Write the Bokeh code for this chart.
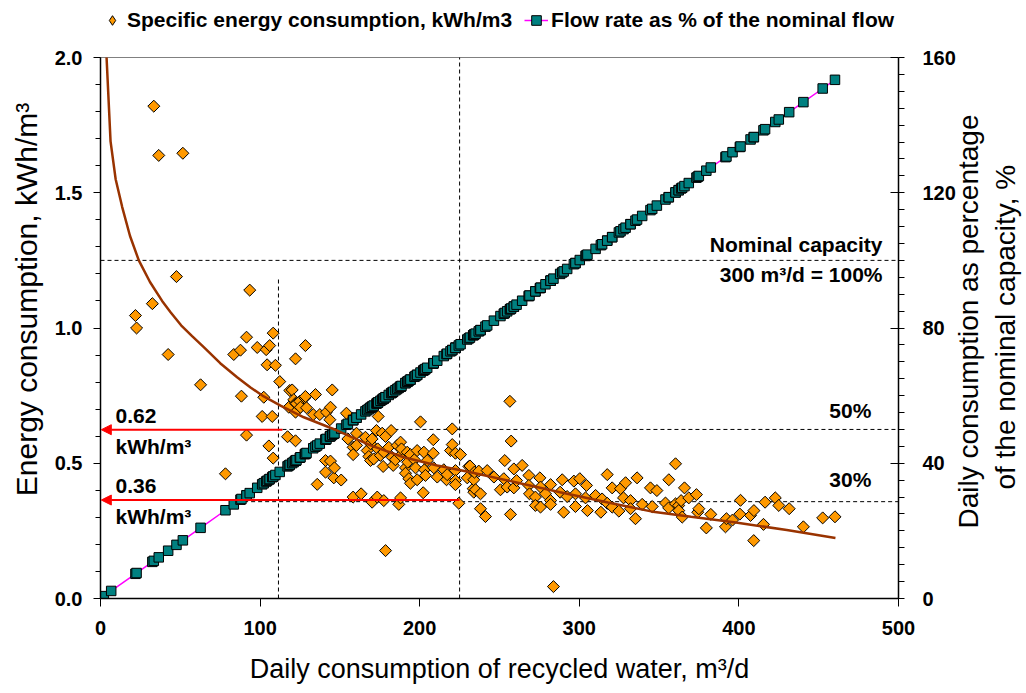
import math
from bokeh.plotting import figure
from bokeh.models import (Range1d, LinearAxis, Legend, LegendItem, Label, Arrow, NormalHead,
                          SingleIntervalTicker, NumeralTickFormatter)
from bokeh.embed import file_html
from bokeh.resources import INLINE

FONT = "Liberation Sans"
NOMINAL = 300.0  # m3/d = 100 %

# ---- data ----
daily_flow = [2.1, 6.7, 21.9, 22.6, 32.5, 33.4, 36.5, 42.4, 47.6, 51.6, 62.7, 78.3, 83.5, 87.7, 88.3, 91.5, 91.5,
              93.5, 98.2, 101.3, 102.3, 103.8, 104.4, 105.5, 106.0, 107.6, 108.2, 108.2, 109.6, 112.3, 117.2, 118.0,
              118.6, 120.1, 121.1, 122.2, 122.2, 122.2, 122.2, 122.8, 124.9, 125.3, 128.0, 128.4, 128.4, 129.1, 133.3,
              134.7, 135.8, 137.4, 141.0, 141.0, 141.6, 143.7, 144.1, 144.1, 145.2, 146.2, 146.6, 150.8, 154.1, 155.0,
              158.3, 158.3, 158.3, 160.4, 160.4, 163.3, 166.0, 167.1, 168.1, 169.2, 169.2, 170.2, 170.2, 171.2, 172.9,
              173.4, 173.7, 174.0, 175.4, 176.5, 177.1, 177.5, 177.5, 178.6, 178.6, 180.6, 182.1, 182.7, 183.4, 184.8,
              185.9, 186.9, 188.0, 188.0, 188.0, 188.6, 191.1, 191.1, 192.2, 192.5, 193.2, 194.2, 194.2, 196.7, 197.4,
              198.4, 198.4, 200.5, 202.2, 202.6, 203.0, 203.6, 204.7, 208.5, 208.5, 208.8, 211.0, 215.1, 216.8, 217.2,
              219.3, 220.4, 220.4, 222.4, 222.4, 222.4, 222.4, 224.5, 225.6, 229.8, 230.8, 231.5, 233.5, 233.9, 233.9,
              234.3, 235.0, 237.0, 238.1, 238.1, 241.2, 242.3, 246.5, 250.6, 252.7, 253.3, 254.8, 256.5, 256.9, 257.3,
              259.0, 259.0, 260.7, 264.2, 268.4, 268.4, 268.8, 272.5, 272.5, 275.3, 275.7, 275.7, 278.8, 282.0, 282.0,
              282.0, 283.8, 288.0, 289.3, 290.2, 292.4, 296.6, 297.6, 297.6, 300.3, 303.9, 304.5, 305.1, 310.2, 313.5,
              314.3, 317.5, 317.5, 320.6, 320.6, 324.8, 325.8, 327.7, 329.0, 332.1, 332.1, 335.2, 336.2, 339.4, 344.6,
              345.7, 348.6, 354.0, 356.1, 356.0, 360.3, 360.3, 362.3, 362.3, 363.8, 364.5, 365.9, 368.6, 373.4, 374.2,
              374.9, 379.6, 382.4, 391.6, 392.2, 396.0, 400.6, 401.0, 407.3, 409.4, 409.3, 415.4, 416.4, 422.8, 425.0,
              431.5, 440.4, 452.5, 460.2]
energy = [3.60, 2.40, 1.046, 1.00, 1.09, 1.82, 1.638, 0.902, 1.19, 1.646, 0.79, 0.461, 0.902, 0.918, 0.748, 0.966, 0.604,
          1.14, 0.928, 0.673, 0.744, 0.92, 0.864, 0.564, 0.935, 0.673, 0.981, 0.519, 0.862, 0.802, 0.598, 0.707,
          0.769, 0.771, 0.735, 0.886, 0.722, 0.689, 0.583, 0.72, 0.729, 0.707, 0.742, 0.935, 0.747, 0.705, 0.68,
          0.754, 0.422, 0.68, 0.467, 0.51, 0.689, 0.661, 0.707, 0.508, 0.771, 0.446, 0.483, 0.438, 0.685, 0.59,
          0.559, 0.532, 0.375, 0.611, 0.566, 0.387, 0.596, 0.547, 0.525, 0.572, 0.51, 0.59, 0.356, 0.516, 0.621,
          0.375, 0.553, 0.673, 0.529, 0.611, 0.488, 0.541, 0.362, 0.599, 0.177, 0.559, 0.621, 0.522, 0.492, 0.513,
          0.566, 0.348, 0.578, 0.529, 0.372, 0.553, 0.483, 0.463, 0.541, 0.504, 0.443, 0.532, 0.426, 0.513, 0.483,
          0.547, 0.439, 0.653, 0.391, 0.541, 0.476, 0.455, 0.51, 0.587, 0.537, 0.483, 0.449, 0.476, 0.439, 0.458,
          0.547, 0.627, 0.569, 0.537, 0.473, 0.436, 0.421, 0.352, 0.532, 0.446, 0.488, 0.49, 0.406, 0.439, 0.393,
          0.467, 0.402, 0.471, 0.387, 0.332, 0.303, 0.473, 0.449, 0.402, 0.443, 0.51, 0.412, 0.729, 0.311, 0.582,
          0.479, 0.409, 0.436, 0.492, 0.455, 0.418, 0.387, 0.375, 0.344, 0.446, 0.412, 0.338, 0.387, 0.421, 0.362,
          0.348, 0.044, 0.393, 0.439, 0.319, 0.377, 0.434, 0.387, 0.34, 0.443, 0.372, 0.418, 0.325, 0.381, 0.319,
          0.368, 0.458, 0.352, 0.409, 0.338, 0.323, 0.406, 0.372, 0.428, 0.362, 0.332, 0.295, 0.446, 0.348, 0.409,
          0.34, 0.399, 0.353, 0.439, 0.335, 0.498, 0.35, 0.344, 0.325, 0.362, 0.301, 0.409, 0.372, 0.384, 0.319,
          0.332, 0.261, 0.311, 0.265, 0.295, 0.29, 0.312, 0.363, 0.307, 0.325, 0.214, 0.274, 0.356, 0.372, 0.344,
          0.332, 0.265, 0.298, 0.302]

# trend curve
fit_flow = [3.8, 6.3, 9.5, 13.6, 18.5, 24.0, 31.0, 38.6, 43.9, 50.5, 57.4, 64.7, 75.0, 85.6, 94.0, 102.3, 112.8,
            127.4, 148.3, 169.2, 190.0, 211.0, 231.8, 260.0, 288.0, 318.0, 345.0, 370.0, 397.0, 430.0, 460.5]
fit_energy = [2.0, 1.69, 1.55, 1.447, 1.34, 1.25, 1.17, 1.10, 1.058, 1.01, 0.97, 0.929, 0.87, 0.818, 0.78, 0.747, 0.713,
              0.670, 0.621, 0.566, 0.522, 0.492, 0.467, 0.43, 0.393, 0.355, 0.322, 0.302, 0.282, 0.253, 0.224]

# flow as % of nominal (derived from the daily flow)
pct = [q / NOMINAL * 100.0 for q in daily_flow]
order = sorted(range(len(daily_flow)), key=lambda i: daily_flow[i])
flow_sorted = [daily_flow[i] for i in order]
pct_sorted = [pct[i] for i in order]

# axis extents
E_MAX, P_MAX = 2.0, 160.0
# the drawing area reaches up to the top of the page so that the legend can sit above the axes
FRAME_H, AXIS_H = 598, 541
e_top = E_MAX * FRAME_H / AXIS_H
p_top = P_MAX * FRAME_H / AXIS_H

p = figure(frame_width=798, frame_height=FRAME_H, x_range=Range1d(0, 500), y_range=Range1d(0, e_top),
           output_backend="svg", toolbar_location=None,
           min_border_left=100, min_border_right=124, min_border_top=0, min_border_bottom=92)
p.extra_y_ranges = {"pct": Range1d(0, p_top)}
p.xgrid.visible = False
p.ygrid.visible = False
p.outline_line_color = None

# plot-area top border
p.segment(x0=[0], y0=[E_MAX], x1=[500], y1=[E_MAX], line_color="#808080", line_width=1.2)

# reference lines
dash = "4 3"
p.segment(x0=[0], y0=[1.25], x1=[500], y1=[1.25], line_color="black", line_dash=dash, line_width=1)
p.segment(x0=[114], y0=[0.625], x1=[500], y1=[0.625], line_color="black", line_dash=dash, line_width=1)
p.segment(x0=[90], y0=[0.358], x1=[500], y1=[0.358], line_color="black", line_dash=dash, line_width=1)
p.segment(x0=[111.5], y0=[0], x1=[111.5], y1=[1.18], line_color="black", line_dash=dash, line_width=1)
p.segment(x0=[225], y0=[0], x1=[225], y1=[E_MAX], line_color="black", line_dash=dash, line_width=1)

# narrow diamonds (used as legend swatch), covered by the square-looking diamonds on top
r_leg = p.scatter(daily_flow, energy, marker="diamond", size=10,
                  fill_color="#FF9900", line_color="black", line_width=1)
r_sc = p.scatter(daily_flow, energy, marker="square", angle=math.pi / 4, size=8.5,
                 fill_color="#FF9900", line_color="black", line_width=1)
r_line = p.line(flow_sorted, pct_sorted, y_range_name="pct", line_color="#FF00FF", line_width=1.5)
r_sq = p.scatter(flow_sorted, pct_sorted, y_range_name="pct", marker="square", size=9.5,
                 fill_color="#008080", line_color="black", line_width=1)
p.line(fit_flow, fit_energy, line_color="#993300", line_width=2.5)

# red arrows
for xs, yv in [(114, 0.624), (225, 0.364)]:
    p.add_layout(Arrow(end=NormalHead(size=10, fill_color="red", line_color="red", line_width=1),
                       x_start=xs, y_start=yv, x_end=0.5, y_end=yv, line_color="red", line_width=2))

def lab(x, y, text, align="left"):
    p.add_layout(Label(x=x, y=y, text=text, text_align=align, text_baseline="alphabetic",
                       text_font=FONT, text_font_style="bold", text_font_size="21px", text_color="black"))

lab(9.4, 0.675, "0.62")
lab(9.4, 0.562, "kWh/m³")
lab(9.4, 0.415, "0.36")
lab(9.4, 0.303, "kWh/m³")
lab(490, 1.31, "Nominal capacity", "right")
lab(490, 1.198, "300 m³/d = 100%", "right")
lab(483, 0.695, "50%", "right")
lab(483, 0.44, "30%", "right")

# axes
ax = p.xaxis[0]
ax.ticker = SingleIntervalTicker(interval=100, num_minor_ticks=0)
ay = p.yaxis[0]
ay.ticker = SingleIntervalTicker(interval=0.5, num_minor_ticks=5)
ay.formatter = NumeralTickFormatter(format="0.0")
ay.bounds = (0, E_MAX)
ry = LinearAxis(y_range_name="pct", ticker=SingleIntervalTicker(interval=40, num_minor_ticks=8),
                bounds=(0, P_MAX))
p.add_layout(ry, "right")

for a in (ax, ay, ry):
    a.axis_line_color = "black"
    a.axis_line_width = 1.5
    a.major_tick_line_color = "black"
    a.minor_tick_line_color = "black"
    a.major_label_text_font = FONT
    a.major_label_text_font_style = "bold"
    a.major_label_text_font_size = "20px"
    a.major_label_text_color = "black"
    a.axis_label_text_font = FONT
    a.axis_label_text_font_style = "normal"
    a.axis_label_text_font_size = "28px"
    a.axis_label_text_color = "black"

ax.major_tick_out = 8
ax.major_tick_in = 0
ax.major_label_standoff = 14
ax.axis_label = "Daily consumption of recycled water, m³/d"
ax.axis_label_text_font_size = "27px"
ax.axis_label_standoff = 16

ay.major_tick_out = 7
ay.major_tick_in = 0
ay.minor_tick_out = 5
ay.minor_tick_in = 0
ay.major_label_standoff = 11
ay.axis_label = "Energy consumption, kWh/m³"
ay.axis_label_text_font_size = "30px"
ay.axis_label_standoff = 9

ry.major_tick_in = 8
ry.major_tick_out = 0
ry.minor_tick_out = 6
ry.minor_tick_in = 0
ry.major_label_standoff = 18
NB = "\u00a0"
ry.axis_label = NB * 9 + "Daily consumption as percentage\n" + NB * 14 + "of the nominal capacity, %"
ry.axis_label_orientation = math.pi / 2
ry.axis_label_align = "start"
ry.axis_label_standoff = 28

legend = Legend(items=[LegendItem(label="Specific energy consumption, kWh/m3", renderers=[r_leg]),
                       LegendItem(label="Flow rate as % of the nominal flow", renderers=[r_line, r_sq])],
                orientation="horizontal", location=(0, FRAME_H - 35), border_line_color=None,
                background_fill_alpha=0, padding=0, margin=0, spacing=12, glyph_width=24, glyph_height=30,
                label_standoff=3, label_text_font=FONT, label_text_font_style="bold",
                label_text_font_size="21px", label_text_color="black")
p.add_layout(legend)

open("out.html", "w").write(file_html(p, INLINE))
